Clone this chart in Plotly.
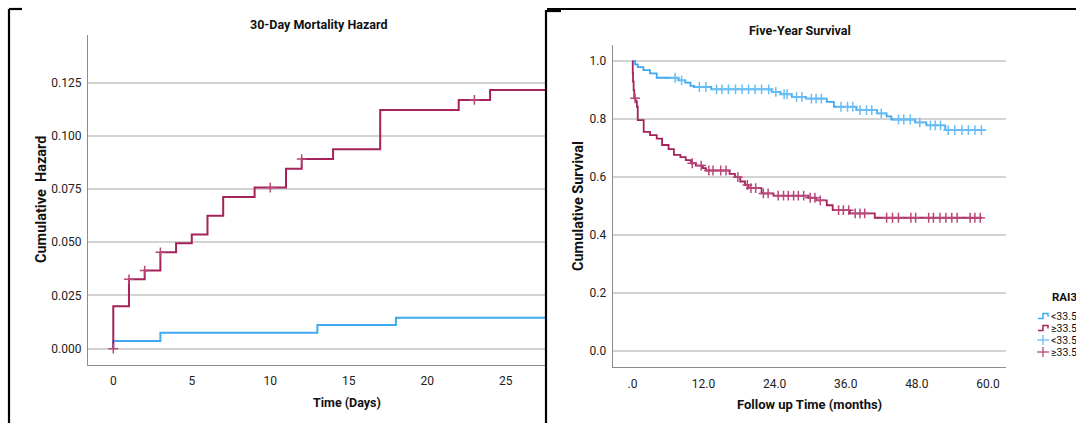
import plotly.graph_objects as go

# ---------------- data ----------------
# 30-day cumulative hazard (Days)
haz_hi_times = [0, 1, 2, 3, 4, 5, 6, 7, 9, 11, 12, 14, 17, 22, 24]
haz_hi_vals = [0.0200, 0.0326, 0.0367, 0.0453, 0.0495, 0.0537, 0.0625, 0.0713,
               0.0757, 0.0846, 0.0891, 0.0937, 0.1122, 0.1169, 0.1216]
haz_hi_cens = [0, 1, 2, 3, 10, 12, 23]
haz_lo_times = [0, 3, 13, 18]
haz_lo_vals = [0.0036, 0.0075, 0.0111, 0.0146]
haz_lo_cens = []
haz_end = 30

# Five-year survival (months)
surv_lo_times = [0.45, 0.9, 1.85, 2.97, 4.1, 7.75, 8.9, 9.8, 10.4, 13.3, 23.5, 25.0,
                 26.9, 29.3, 32.8, 34.0, 37.8, 41.3, 42.9, 43.7, 47.7, 49.6, 52.8]
surv_lo_vals = [0.989, 0.980, 0.969, 0.958, 0.943, 0.934, 0.926, 0.915, 0.911, 0.903,
                0.894, 0.886, 0.877, 0.871, 0.860, 0.843, 0.831, 0.820, 0.810, 0.799,
                0.789, 0.779, 0.762]
surv_lo_cens = [7.2, 8.3, 11.3, 12.4, 14.2, 15.1, 16.2, 17.4, 18.5, 19.6, 20.7, 21.8,
                23.0, 24.2, 25.6, 26.1, 27.7, 28.6, 30.2, 31.0, 31.9, 35.2, 36.3, 37.2,
                38.4, 39.5, 40.4, 42.0, 44.9, 45.8, 46.9, 48.5, 50.3, 51.1, 52.0, 53.3,
                54.4, 55.6, 56.7, 57.8, 58.9]
surv_lo_end = 59.5

surv_hi_times = [0.05, 0.1, 0.2, 0.3, 0.55, 0.75, 0.9, 1.9, 2.97, 4.1, 5.0, 6.1, 7.0,
                 8.1, 9.0, 9.9, 10.7, 11.9, 12.4, 16.4, 17.3, 18.2, 19.0, 19.6, 21.8,
                 23.8, 29.7, 31.0, 32.8, 33.8, 36.7, 40.9]
surv_hi_vals = [0.960, 0.930, 0.900, 0.872, 0.862, 0.843, 0.797, 0.756, 0.745, 0.733,
                0.711, 0.697, 0.677, 0.669, 0.659, 0.648, 0.640, 0.631, 0.623, 0.611,
                0.600, 0.585, 0.573, 0.562, 0.544, 0.536, 0.529, 0.520, 0.503, 0.486,
                0.475, 0.460]
surv_hi_cens = [0.45, 10.1, 11.6, 12.9, 13.6, 14.9, 15.8, 17.8, 19.4, 20.0, 20.8, 22.1,
                22.9, 24.6, 25.5, 26.3, 27.2, 28.0, 28.9, 30.0, 30.8, 31.7, 34.8, 35.6,
                36.5, 37.6, 38.4, 39.2, 42.9, 43.9, 44.9, 47.0, 47.8, 50.0, 50.8, 51.9,
                52.9, 53.9, 54.8, 57.0, 57.8, 58.7]
surv_hi_end = 59.0

legend_title = "RAI3"
legend_labels = ["<33.5", "≥33.5", "<33.5", "≥33.5"]

# ---------------- styles ----------------
BLUE = "#3DA9F2"
RED = "#A3235A"
BLUE_C = "#6BBEF5"
RED_C = "#B8487A"
FONT = "Roboto"
W, H = 1076, 423


def step_xy(times, vals, start, end):
    xs = [0] + list(times) + [end]
    ys = [start] + list(vals) + [vals[-1]]
    return xs, ys


def value_at(times, vals, start, t):
    v = start
    for ti, vi in zip(times, vals):
        if ti <= t:
            v = vi
    return v


fig = go.Figure()

# left chart
for times, vals, cens, col, ccol in [
    (haz_lo_times, haz_lo_vals, haz_lo_cens, BLUE, BLUE_C),
    (haz_hi_times, haz_hi_vals, haz_hi_cens, RED, RED_C),
]:
    xs, ys = step_xy(times, vals, 0.0, haz_end)
    fig.add_trace(go.Scatter(x=xs, y=ys, mode="lines", line=dict(color=col, width=2, shape="hv"),
                             xaxis="x", yaxis="y", showlegend=False, hoverinfo="skip"))
    if cens:
        cy = [0.0 if t == 0 else value_at(times, vals, 0.0, t) for t in cens]
        fig.add_trace(go.Scatter(x=cens, y=cy, mode="markers",
                                 marker=dict(symbol="cross-thin", size=7, line=dict(color=ccol, width=1.5)),
                                 xaxis="x", yaxis="y", showlegend=False, hoverinfo="skip"))

# right chart
for times, vals, cens, end, col, ccol in [
    (surv_lo_times, surv_lo_vals, surv_lo_cens, surv_lo_end, BLUE, BLUE_C),
    (surv_hi_times, surv_hi_vals, surv_hi_cens, surv_hi_end, RED, RED_C),
]:
    xs, ys = step_xy(times, vals, 1.0, end)
    fig.add_trace(go.Scatter(x=xs, y=ys, mode="lines", line=dict(color=col, width=1.8, shape="hv"),
                             xaxis="x2", yaxis="y2", showlegend=False, hoverinfo="skip"))
    cy = [value_at(times, vals, 1.0, t) for t in cens]
    fig.add_trace(go.Scatter(x=cens, y=cy, mode="markers",
                             marker=dict(symbol="cross-thin", size=7, line=dict(color=ccol, width=1.5)),
                             xaxis="x2", yaxis="y2", showlegend=False, hoverinfo="skip"))


def px(x):
    return x / W


def py(y):
    return 1 - y / H


tickfont = dict(family=FONT, size=12, color="#222")
grid = dict(showgrid=True, gridcolor="#D3D3D3", gridwidth=1.5, zeroline=False,
            showline=True, linecolor="#8C8C8C", linewidth=1.2, ticks="", tickfont=tickfont)

fig.update_layout(
    width=W, height=H, margin=dict(l=0, r=0, t=0, b=0),
    paper_bgcolor="white", plot_bgcolor="white", showlegend=False,
    xaxis=dict(domain=[px(88), px(546)], range=[-1.61, 27.56], tickvals=[0, 5, 10, 15, 20, 25],
               anchor="y", showgrid=False, zeroline=False, showline=True, linecolor="#8C8C8C",
               linewidth=1.2, ticks="", ticklabelstandoff=4, tickfont=tickfont),
    yaxis=dict(domain=[py(365), py(35)], range=[-0.00766, 0.1474],
               tickvals=[0, 0.025, 0.05, 0.075, 0.1, 0.125], tickformat=".3f",
               anchor="x", ticklabelstandoff=3, **grid),
    xaxis2=dict(domain=[px(612.7), px(1006)], range=[-3.33, 63.05],
                tickvals=[0, 12, 24, 36, 48, 60], ticktext=[".0", "12.0", "24.0", "36.0", "48.0", "60.0"],
                anchor="y2", showgrid=False, zeroline=False, showline=True, linecolor="#8C8C8C",
                linewidth=1.2, ticks="", ticklabelstandoff=6, tickfont=tickfont),
    yaxis2=dict(domain=[py(366.7), py(45)], range=[-0.054, 1.056],
                tickvals=[0, 0.2, 0.4, 0.6, 0.8, 1.0], tickformat=".1f",
                anchor="x2", ticklabelstandoff=3, **grid),
)

ann = []


def text(x, y, s, size=12, bold=True, angle=0, xanchor="center"):
    ann.append(dict(x=px(x), y=py(y), xref="paper", yref="paper", text=("<b>%s</b>" % s) if bold else s,
                    showarrow=False, textangle=angle, xanchor=xanchor, yanchor="middle",
                    font=dict(family=FONT, size=size, color="#111")))


text(319, 25, "30-Day Mortality Hazard", size=12.5)
text(347, 402, "Time (Days)", size=12.5)
text(41, 200, "Cumulative  Hazard", size=14.5, angle=-90)
text(800, 31, "Five-Year Survival", size=12.5)
text(809, 404, "Follow up Time (months)", size=13)
text(578, 206, "Cumulative Survival", size=14.5, angle=-90)

# legend
text(1050, 297, legend_title, size=11.5, xanchor="left")
for i, lab in enumerate(legend_labels):
    text(1049, 316 + 12 * i, lab, size=10.5, bold=False, xanchor="left")
fig.update_layout(annotations=ann)

shapes = []
# legend glyphs
for i, col in enumerate([BLUE, RED]):
    yb = 318.5 + 12 * i
    shapes.append(dict(type="path", xref="paper", yref="paper",
                       path="M %f,%f L %f,%f L %f,%f L %f,%f L %f,%f" % (
                           px(1038), py(yb), px(1043), py(yb), px(1043), py(yb - 5),
                           px(1048), py(yb - 5), px(1048), py(yb - 2)),
                       line=dict(color=col, width=1.5)))
for i, col in enumerate([BLUE_C, RED_C]):
    yc = 340 + 12 * i
    shapes.append(dict(type="line", xref="paper", yref="paper", x0=px(1037), x1=px(1049),
                       y0=py(yc), y1=py(yc), line=dict(color=col, width=1.3)))
    shapes.append(dict(type="line", xref="paper", yref="paper", x0=px(1043), x1=px(1043),
                       y0=py(yc - 5), y1=py(yc + 5), line=dict(color=col, width=1.3)))

# panel frames (black)
for x0, y0, x1, y1 in [
    (9, 9, 9, 423), (9, 9, 22, 9),          # left panel
    (546, 10, 546, 423),                    # divider
    (547, 9, 1076, 9), (547, 11, 561, 11),  # right panel top
]:
    shapes.append(dict(type="line", xref="paper", yref="paper", x0=px(x0), x1=px(x1),
                       y0=py(y0), y1=py(y1), line=dict(color="black", width=2.2)))
fig.update_layout(shapes=shapes)

fig.write_html("out.html", config={"displayModeBar": False},
               post_script="document.body.style.margin='0';document.body.style.overflow='hidden';")
